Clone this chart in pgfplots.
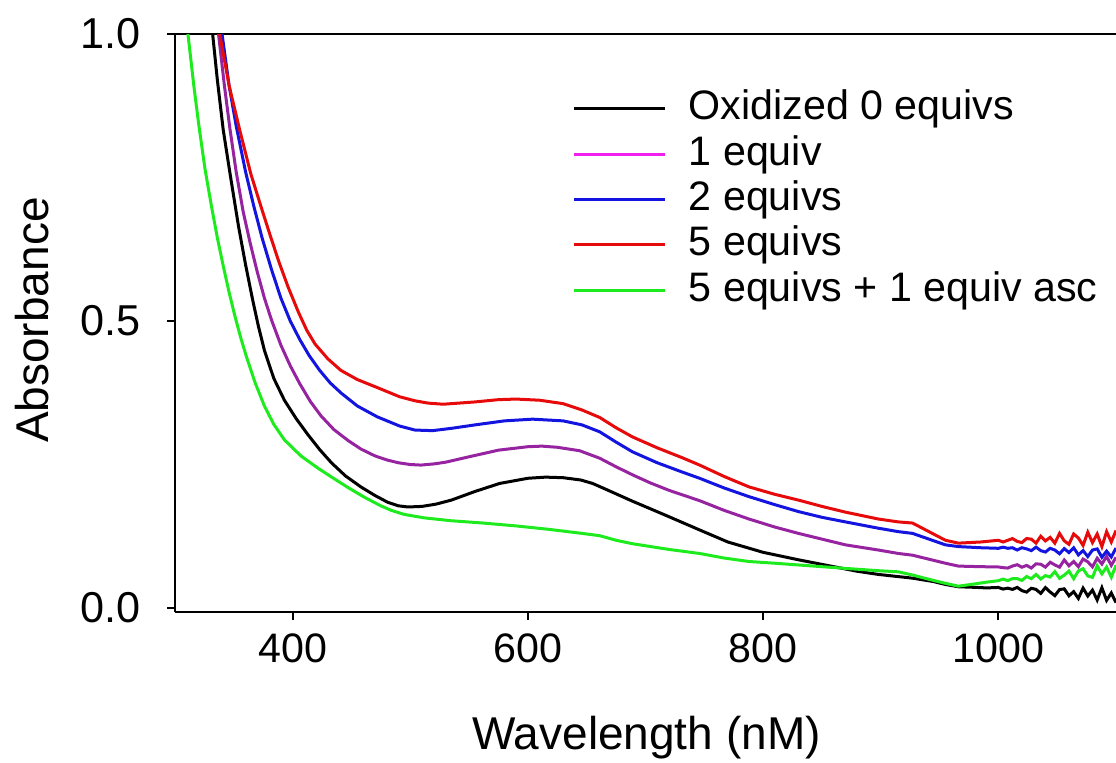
\documentclass[border=0pt]{standalone}
\usepackage{fontspec}
\setmainfont{Liberation Sans}
\usepackage{pgfplots}
\pgfplotsset{compat=1.18}

\definecolor{cpurple}{RGB}{150,35,160}
\definecolor{cmag}{RGB}{240,30,240}
\definecolor{cblue}{RGB}{20,20,225}
\definecolor{cred}{RGB}{230,10,10}
\definecolor{cgreen}{RGB}{30,235,30}

\begin{document}
\begin{tikzpicture}
\begin{axis}[
  scale only axis,
  width=235.25pt, height=144.5pt,
  xmin=300, xmax=1100,
  ymin=-0.007, ymax=1.0,
  axis x line=box, axis y line=left,
  axis line style={line width=0.5pt, -},
  every outer y axis line/.append style={-},
  xtick={400,600,800,1000},
  xticklabels={400,600,800,1000},
  ytick={0,0.5,1},
  yticklabels={0.0,0.5,1.0},
  xtick pos=left,
  tick align=outside,
  major tick length=2pt,
  tick style={line width=0.5pt, black},
  tick label style={font=\fontsize{10.3}{12}\selectfont},
  yticklabel style={xshift=-3pt, font=\fontsize{10.8}{12}\selectfont},
  xlabel={Wavelength (nM)},
  xlabel style={at={(axis description cs:0.501,-0.237)}, anchor=base,
    font=\fontsize{11.5}{14}\selectfont, inner sep=0pt},
  ylabel={Absorbance},
  ylabel style={at={(axis description cs:-0.1343,0.505)}, anchor=base,
    font=\fontsize{11.5}{14}\selectfont, inner sep=0pt},
  legend style={at={(axis description cs:0.4219,0.905)}, anchor=north west,
    draw=none, fill=none, inner sep=0pt, font=\fontsize{10.3}{12}\selectfont,
    row sep=1.85pt, column sep=5.5pt,
    nodes={inner sep=0pt, text height=7.5pt, text depth=2pt}},
  legend cell align=left,
  legend image code/.code={\draw[#1, line width=0.75pt] (0pt,0pt) -- (22.75pt,0pt);},
  every axis plot/.append style={line width=0.75pt, no marks},
]

% Oxidized 0 equivs
\addplot[black] coordinates {
(332,1.0)(336,0.92)(341,0.833)(347,0.754)(354,0.665)(360,0.598)(366,0.537)
(371,0.490)(376,0.449)(384,0.400)(393,0.362)(403,0.330)(413,0.302)(423,0.276)
(433,0.253)(445,0.230)(458,0.211)(470,0.196)(481,0.184)(490,0.178)(498,0.176)
(510,0.177)(522,0.181)(535,0.188)(555,0.203)(576,0.217)(600,0.226)(615,0.228)
(630,0.227)(645,0.223)(655,0.217)(665,0.208)(677,0.197)(689,0.186)(704,0.173)
(720,0.159)(746,0.136)(770,0.115)(800,0.097)(830,0.084)(860,0.072)(880,0.064)
(898,0.0585)(927,0.052)(945,0.046)(955,0.041)(966,0.037)(980,0.036)(990,0.035)
(1000,0.0358)(1004,0.033)(1008,0.0346)(1012,0.0324)(1016,0.0359)(1020,0.0303)
(1024,0.0277)(1028,0.0344)(1032,0.0324)(1036,0.0255)(1040,0.0356)(1044,0.0279)
(1048,0.0215)(1052,0.0321)(1056,0.0334)(1060,0.0212)(1064,0.0285)(1068,0.0167)
(1072,0.0346)(1076,0.0209)(1080,0.0311)(1084,0.0140)(1088,0.0353)(1092,0.0133)
(1096,0.0262)(1100,0.0095)
};
\addlegendentry{Oxidized 0 equivs}

\addlegendimage{cmag}
\addlegendentry{1 equiv}

% 1 equiv
\addplot[cpurple, forget plot] coordinates {
(337,1.0)(342,0.91)(346.7,0.835)(352,0.760)(358,0.690)(364,0.635)(370,0.585)
(376,0.540)(382,0.502)(390,0.458)(398,0.422)(406,0.391)(415,0.360)(424,0.335)
(435,0.311)(447,0.292)(458,0.277)(470,0.265)(480,0.258)(490,0.253)(500,0.250)
(509,0.249)(520,0.251)(530,0.254)(549,0.263)(575,0.275)(600,0.281)(612,0.282)
(625,0.280)(644,0.274)(661,0.261)(675,0.246)(689,0.232)(704,0.218)(720,0.205)
(746,0.187)(767,0.170)(788,0.155)(810,0.141)(830,0.130)(850,0.120)(870,0.110)
(898,0.101)(915,0.095)(927,0.092)(941,0.085)(955,0.078)(966,0.073)(985,0.072)
(1000,0.0715)(1004,0.0703)(1008,0.0696)(1012,0.0731)(1016,0.0754)(1020,0.0711)
(1024,0.0742)(1028,0.0697)(1032,0.0770)(1036,0.0762)(1040,0.0712)(1044,0.0797)
(1048,0.0751)(1052,0.0712)(1056,0.0837)(1060,0.0736)(1064,0.0810)(1068,0.0720)
(1072,0.0853)(1076,0.0804)(1080,0.0717)(1084,0.0867)(1088,0.0766)(1092,0.0899)
(1096,0.0743)(1100,0.0884)
};

% 2 equivs
\addplot[cblue] coordinates {
(340,1.0)(346,0.91)(352,0.840)(360,0.760)(367,0.700)(374,0.645)(382,0.590)
(390,0.540)(398,0.500)(406,0.468)(414,0.440)(423,0.414)(432,0.392)(441.5,0.374)
(455,0.352)(472,0.333)(491,0.317)(504,0.310)(519,0.309)(535,0.313)(555,0.319)
(580,0.326)(604,0.329)(630,0.326)(646,0.319)(661,0.307)(675,0.289)(689,0.272)
(710,0.253)(731,0.237)(746,0.226)(767,0.209)(788,0.194)(810,0.180)(830,0.168)
(850,0.158)(870,0.150)(898,0.139)(915,0.133)(927,0.130)(941,0.120)(955,0.110)
(966,0.107)(985,0.105)
(1000,0.104)(1004,0.106)(1008,0.104)(1012,0.105)(1016,0.101)(1020,0.105)
(1024,0.103)(1028,0.100)(1032,0.106)(1036,0.100)(1040,0.0975)(1044,0.104)
(1048,0.101)(1052,0.0945)(1056,0.1035)(1060,0.0966)(1064,0.105)(1068,0.0926)
(1072,0.100)(1076,0.0897)(1080,0.101)(1084,0.103)(1088,0.0885)(1092,0.099)
(1096,0.089)(1100,0.1045)
};
\addlegendentry{2 equivs}

% 5 equivs
\addplot[cred] coordinates {
(338,1.0)(346,0.91)(355,0.833)(364.5,0.756)(373,0.700)(380,0.655)(388,0.605)
(396,0.560)(405,0.515)(412,0.484)(419,0.460)(430,0.434)(441,0.414)(455,0.398)
(472,0.384)(491,0.368)(504,0.361)(515,0.357)(528,0.355)(555,0.359)(575,0.363)
(590,0.364)(610,0.362)(630,0.356)(646,0.345)(661,0.332)(675,0.314)(689,0.298)
(710,0.279)(731,0.262)(746,0.249)(767,0.229)(788,0.211)(810,0.198)(830,0.188)
(850,0.177)(870,0.167)(898,0.155)(915,0.150)(927,0.148)(941,0.133)(955,0.118)
(966,0.113)(985,0.115)
(1000,0.118)(1004,0.115)(1008,0.118)(1012,0.121)(1016,0.116)(1020,0.114)
(1024,0.121)(1028,0.120)(1032,0.113)(1036,0.125)(1040,0.117)(1044,0.123)
(1048,0.113)(1052,0.130)(1056,0.117)(1060,0.111)(1064,0.129)(1068,0.122)
(1072,0.109)(1076,0.132)(1080,0.114)(1084,0.129)(1088,0.107)(1092,0.133)
(1096,0.115)(1100,0.135)
};
\addlegendentry{5 equivs}

% 5 equivs + 1 equiv asc
\addplot[cgreen] coordinates {
(311,1.0)(316,0.91)(320,0.845)(325.5,0.765)(331,0.700)(336,0.645)(341,0.596)
(346,0.550)(351,0.508)(356,0.470)(361,0.436)(368,0.393)(376,0.352)(384,0.320)
(393,0.293)(407,0.265)(422,0.243)(434,0.227)(447,0.210)(461,0.193)(475,0.178)
(484,0.170)(495,0.163)(512,0.157)(535,0.152)(562,0.148)(590,0.143)(618,0.137)
(646,0.130)(661,0.126)(675,0.118)(689,0.112)(720,0.102)(746,0.095)(767,0.087)
(788,0.081)(810,0.078)(830,0.075)(870,0.069)(898,0.065)(915,0.063)(927,0.0575)
(941,0.050)(955,0.043)(966,0.038)(980,0.042)(990,0.045)
(1000,0.0476)(1004,0.0504)(1008,0.0477)(1012,0.0512)(1016,0.0513)(1020,0.0480)
(1024,0.0549)(1028,0.0511)(1032,0.0585)(1036,0.0506)(1040,0.0564)(1044,0.0540)
(1048,0.0634)(1052,0.0517)(1056,0.0573)(1060,0.0644)(1064,0.0511)(1068,0.0646)
(1072,0.0684)(1076,0.0559)(1080,0.0534)(1084,0.0735)(1088,0.0595)(1092,0.0713)
(1096,0.0537)(1100,0.0744)
};
\addlegendentry{5 equivs + 1 equiv asc}

\end{axis}
\pgfresetboundingbox
\path ([shift={(-43.75pt,-37.5pt)}]current axis.south west)
  rectangle ([shift={(0pt,8.5pt)}]current axis.north east);
\end{tikzpicture}
\end{document}
